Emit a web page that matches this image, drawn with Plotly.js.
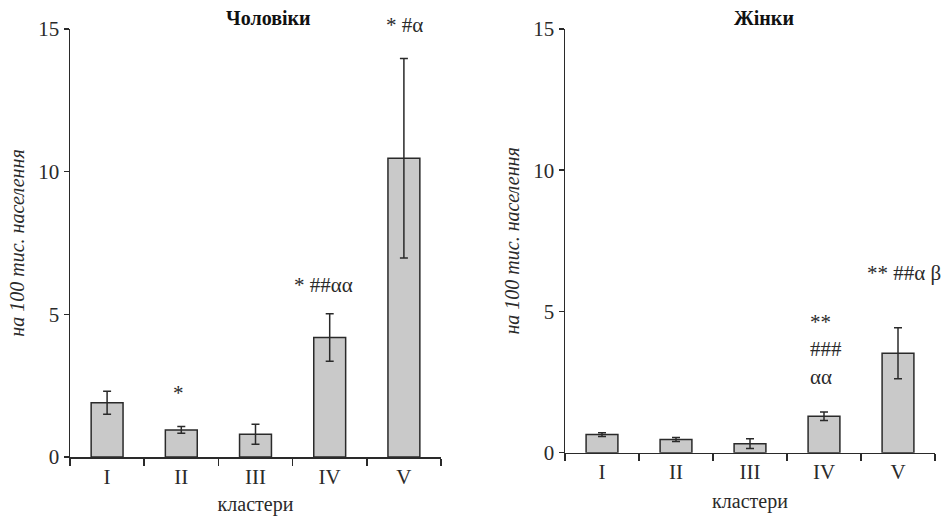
<!DOCTYPE html>
<html>
<head>
<meta charset="utf-8">
<script src="https://cdn.plot.ly/plotly-3.0.1.min.js"></script>
<style>html,body{margin:0;padding:0;background:#fff;}#chart{width:949px;height:516px;}</style>
</head>
<body>
<div id="chart"></div>
<script>
// Data
const clusters = ['I', 'II', 'III', 'IV', 'V'];
const menValues = [1.90, 0.95, 0.80, 4.19, 10.47];
const menErrors = [0.40, 0.12, 0.35, 0.83, 3.50];
const womenValues = [0.64, 0.47, 0.32, 1.29, 3.52];
const womenErrors = [0.07, 0.07, 0.17, 0.15, 0.90];
const menMarks = ['', '*', '', '* ##αα', '* #α'];
const womenMarks = ['', '', '', '**<br>###<br>αα', '** ##α β'];
const yTicks = [0, 5, 10, 15];
const menTitle = 'Чоловіки';
const womenTitle = 'Жінки';
const yTitle = 'на 100 тис. населення';
const xTitle = 'кластери';

const FONT = '"Liberation Serif", "Times New Roman", Times, serif';
const INK = '#2a2a2a';
const W = 949, H = 516;
const px = v => v / W;
const py = v => 1 - v / H;

const barStyle = {
  color: '#c9c9c9',
  line: { color: INK, width: 1.5 }
};
const errStyle = (arr) => ({
  type: 'data', array: arr, visible: true,
  color: INK, thickness: 1.5, width: 4
});

const traces = [
  {
    type: 'bar', x: clusters, y: menValues, xaxis: 'x', yaxis: 'y',
    marker: barStyle, error_y: errStyle(menErrors), width: 0.43,
    hoverinfo: 'x+y', showlegend: false, cliponaxis: false
  },
  {
    type: 'bar', x: clusters, y: womenValues, xaxis: 'x2', yaxis: 'y2',
    marker: barStyle, error_y: errStyle(womenErrors), width: 0.43,
    hoverinfo: 'x+y', showlegend: false, cliponaxis: false
  }
];

const xAxisBase = {
  type: 'category',
  range: [-0.5, 4.5],
  showline: true, linecolor: INK, linewidth: 1.5,
  ticks: 'outside', tickson: 'boundaries', ticklen: 7, tickwidth: 1.5, tickcolor: INK,
  showgrid: false, zeroline: false,
  tickfont: { family: FONT, size: 21, color: INK },
  title: { text: xTitle, font: { family: FONT, size: 20, color: INK }, standoff: 10 },
  fixedrange: true
};
const yAxisBase = {
  range: [0, 15],
  tickvals: yTicks,
  showline: true, linecolor: INK, linewidth: 1.5,
  ticks: 'outside', ticklen: 5, tickwidth: 1.5, tickcolor: INK,
  showgrid: false, zeroline: false,
  tickfont: { family: FONT, size: 21, color: INK },
  title: { text: yTitle, font: { family: FONT, size: 20, color: INK, style: 'italic' }, standoff: 8 },
  fixedrange: true
};

const annotations = [];
const menPos = { 1: { y: 2.24, dx: -3 }, 3: { y: 6.03, dx: -6 } };
menMarks.forEach((t, i) => {
  if (!t) return;
  if (i === 4) {
    // above the top of the axis: placed in paper coordinates so it is not hidden
    annotations.push({
      xref: 'x', yref: 'paper', x: i, y: py(25), text: t, showarrow: false,
      xanchor: 'center', yanchor: 'middle', xshift: 1,
      font: { family: FONT, size: 21, color: INK }
    });
    return;
  }
  const pos = menPos[i];
  annotations.push({
    xref: 'x', yref: 'y', x: i, y: pos.y, text: t, showarrow: false,
    xanchor: 'center', yanchor: 'middle', xshift: pos.dx,
    font: { family: FONT, size: 21, color: INK }
  });
});
const womenPos = { 3: { y: 3.67, dx: -16, anchor: 'left' }, 4: { y: 6.36, dx: 6, anchor: 'center' } };
womenMarks.forEach((t, i) => {
  if (!t) return;
  const pos = womenPos[i];
  annotations.push({
    xref: 'x2', yref: 'y2', x: i, y: pos.y, text: t, showarrow: false,
    xanchor: pos.anchor, yanchor: 'middle', xshift: pos.dx, align: 'left',
    font: { family: FONT, size: 21, color: INK }
  });
});
annotations.push({
  xref: 'paper', yref: 'paper', x: px(268), y: py(18), text: '<b>' + menTitle + '</b>',
  showarrow: false, xanchor: 'center', yanchor: 'middle',
  font: { family: FONT, size: 20, color: '#111' }
});
annotations.push({
  xref: 'paper', yref: 'paper', x: px(764), y: py(18), text: '<b>' + womenTitle + '</b>',
  showarrow: false, xanchor: 'center', yanchor: 'middle',
  font: { family: FONT, size: 20, color: '#111' }
});

const layout = {
  width: W, height: H,
  margin: { l: 0, r: 0, t: 0, b: 0 },
  paper_bgcolor: '#ffffff', plot_bgcolor: '#ffffff',
  showlegend: false,
  font: { family: FONT },
  bargap: 0.57,
  xaxis: Object.assign({}, xAxisBase, { domain: [px(70), px(441)], anchor: 'y' }),
  yaxis: Object.assign({}, yAxisBase, { domain: [py(457), py(29)], anchor: 'x' }),
  xaxis2: Object.assign({}, xAxisBase, { domain: [px(565), px(935)], anchor: 'y2' }),
  yaxis2: Object.assign({}, yAxisBase, { domain: [py(452.7), py(29)], anchor: 'x2' }),
  annotations: annotations
};

Plotly.newPlot('chart', traces, layout, { displayModeBar: false, staticPlot: true });
</script>
</body>
</html>
